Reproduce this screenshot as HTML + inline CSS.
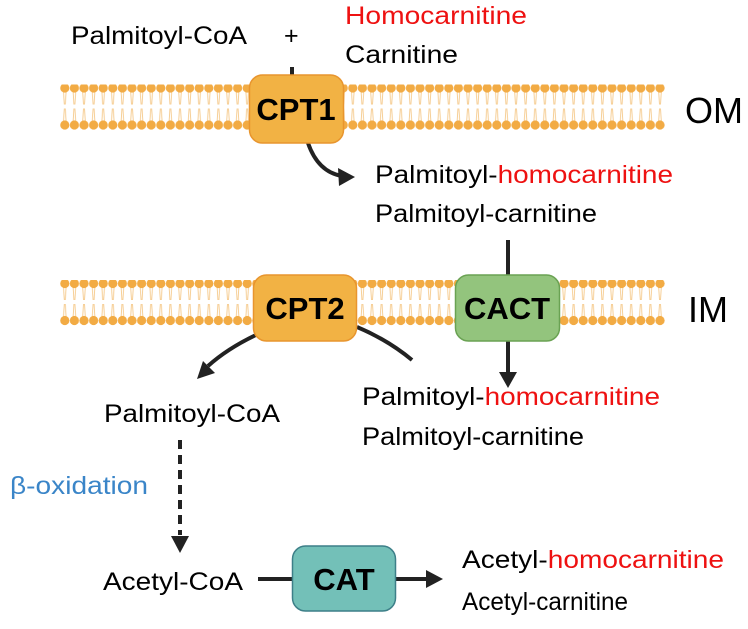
<!DOCTYPE html>
<html><head><meta charset="utf-8"><style>
html,body{margin:0;padding:0;background:#fff;}
svg{display:block;font-family:"Liberation Sans",Arial,sans-serif;}
</style></head><body>
<svg width="748" height="629" viewBox="0 0 748 629" xmlns="http://www.w3.org/2000/svg">
<defs>
<pattern id="lip" x="60" y="0" width="9.6" height="60" patternUnits="userSpaceOnUse">
  <path d="M3.3 4 L4.3 20 M6.3 4 L5.3 20 M3.3 40 L4.3 24 M6.3 40 L5.3 24" stroke="#f5c98a" stroke-width="0.9" fill="none"/>
  <circle cx="4.8" cy="3.5" r="4.6" fill="#f2ab44"/>
  <circle cx="4.8" cy="40.5" r="4.6" fill="#f2ab44"/>
</pattern>
</defs>
<g transform="translate(0,84.5)"><rect x="60" y="0" width="605" height="48" fill="url(#lip)"/></g>
<g transform="translate(0,280)"><rect x="60" y="0" width="605" height="48" fill="url(#lip)"/></g>

<g stroke="#222" stroke-width="4" fill="none">
<line x1="292" y1="67" x2="292" y2="76"/>
<path d="M308 143 Q318 172 342 176"/>
<path d="M258 334 Q228 348 208 366"/>
<path d="M357 327 Q388 340 412 360"/>
<line x1="508" y1="240" x2="508" y2="276"/>
<line x1="508" y1="341" x2="508" y2="374"/>
<line x1="180" y1="440" x2="180" y2="535" stroke-dasharray="9,6"/>
<line x1="258" y1="579" x2="292" y2="579"/>
<line x1="396" y1="579" x2="428" y2="579"/>
</g>
<g fill="#222">
<path d="M338 168 L355 177 L339 186 z"/>
<path d="M197 379 L203 361 L215 373 z"/>
<path d="M499 372 L517 372 L508 388 z"/>
<path d="M171 536 L189 536 L180 553 z"/>
<path d="M426 570 L443 579 L426 588 z"/>
</g>

<rect x="249.5" y="75" width="94" height="68" rx="13" fill="#f2b244" stroke="#e8952e" stroke-width="1.5"/>
<rect x="253.5" y="275" width="103" height="66" rx="13" fill="#f2b244" stroke="#e8952e" stroke-width="1.5"/>
<rect x="455.5" y="275" width="104" height="66" rx="13" fill="#93c47d" stroke="#6aa253" stroke-width="1.5"/>
<rect x="292.5" y="546" width="103" height="65" rx="13" fill="#73c0b8" stroke="#3d7f88" stroke-width="1.5"/>

<g font-weight="bold" font-size="31" text-anchor="middle" fill="#000">
<text x="296" y="120">CPT1</text>
<text x="305" y="319">CPT2</text>
<text x="507" y="319">CACT</text>
<text x="344" y="590">CAT</text>
</g>

<g font-size="25" fill="#000">
<text x="71" y="44" textLength="176" lengthAdjust="spacingAndGlyphs">Palmitoyl-CoA</text>
<text x="284" y="44">+</text>
<text x="345" y="24" fill="#ee1111" textLength="182" lengthAdjust="spacingAndGlyphs">Homocarnitine</text>
<text x="345" y="63" textLength="113" lengthAdjust="spacingAndGlyphs">Carnitine</text>
<text x="375" y="183" textLength="298" lengthAdjust="spacingAndGlyphs">Palmitoyl-<tspan fill="#ee1111">homocarnitine</tspan></text>
<text x="375" y="222" textLength="222" lengthAdjust="spacingAndGlyphs">Palmitoyl-carnitine</text>
<text x="362" y="405" textLength="298" lengthAdjust="spacingAndGlyphs">Palmitoyl-<tspan fill="#ee1111">homocarnitine</tspan></text>
<text x="362" y="445" textLength="222" lengthAdjust="spacingAndGlyphs">Palmitoyl-carnitine</text>
<text x="104" y="422" textLength="176" lengthAdjust="spacingAndGlyphs">Palmitoyl-CoA</text>
<text x="10" y="494" fill="#3a85c8" textLength="138" lengthAdjust="spacingAndGlyphs">β-oxidation</text>
<text x="103" y="590" textLength="140" lengthAdjust="spacingAndGlyphs">Acetyl-CoA</text>
<text x="462" y="568" textLength="262" lengthAdjust="spacingAndGlyphs">Acetyl-<tspan fill="#ee1111">homocarnitine</tspan></text>
<text x="462" y="610" textLength="166" lengthAdjust="spacingAndGlyphs">Acetyl-carnitine</text>
<text x="685" y="123" font-size="36">OM</text>
<text x="688" y="322" font-size="36">IM</text>
</g>
</svg>
</body></html>
